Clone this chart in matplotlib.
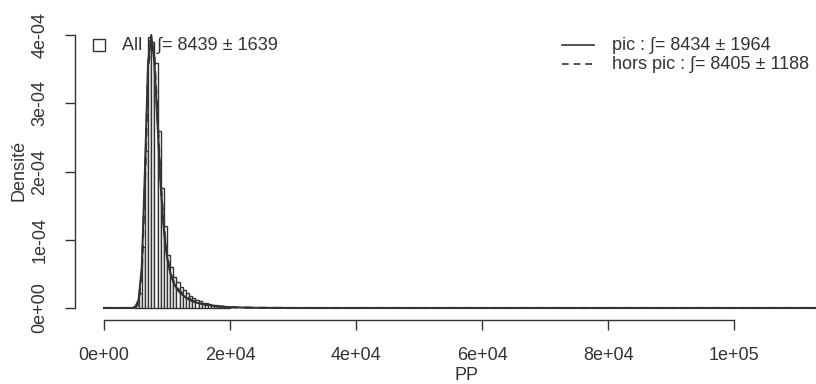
import matplotlib
matplotlib.use("Agg")
import matplotlib.pyplot as plt
from matplotlib.lines import Line2D

plt.rcParams['font.family'] = ['Liberation Sans', 'DejaVu Sans']

# histogram (density), bins of 500
bin_start = 5000
bin_width = 500
hist_density = [5e-6, 2.2e-5, 9e-5, 2.3e-4, 3.97e-4, 3.9e-4, 3.59e-4, 2.6e-4,
                1.76e-4, 1.2e-4, 7.8e-5, 6e-5, 4.5e-5, 3.8e-5, 3.1e-5, 2.6e-5,
                2.2e-5, 1.8e-5, 1.5e-5, 1.2e-5, 1.0e-5, 8e-6, 7e-6, 6e-6,
                5e-6, 4e-6, 3e-6, 2.5e-6, 2e-6, 1.5e-6]

# kernel density curves
pic_x = [0, 4500, 5000, 5500, 6000, 6500, 7000, 7500, 8000, 8500, 9000, 9500,
         10000, 10500, 11000, 11500, 12000, 13000, 14000, 15000, 16000, 18000,
         20000, 22000, 25000, 30000, 115000]
pic_y = [0, 0, 2e-6, 1.2e-5, 6e-5, 2.0e-4, 3.6e-4, 4.0e-4, 3.6e-4, 2.7e-4, 1.8e-4,
         1.15e-4, 7.5e-5, 5.2e-5, 3.8e-5, 2.9e-5, 2.3e-5, 1.5e-5, 1.0e-5, 7e-6,
         5e-6, 2.5e-6, 1.2e-6, 6e-7, 2e-7, 0, 0]

hors_x = [0, 5000, 5500, 6000, 6500, 7000, 7500, 8000, 8500, 9000, 9500,
          10000, 10500, 11000, 11500, 12000, 13000, 14000, 15000, 16000, 18000,
          20000, 22000, 25000, 30000, 115000]
hors_y = [0, 0, 8e-6, 5e-5, 1.8e-4, 3.5e-4, 3.95e-4, 3.7e-4, 2.8e-4, 1.85e-4,
          1.2e-4, 7.8e-5, 5.4e-5, 4.0e-5, 3.1e-5, 2.5e-5, 1.7e-5, 1.1e-5, 7.5e-6,
          5e-6, 2.5e-6, 1.2e-6, 6e-7, 2e-7, 0, 0]

x_ticks = [0, 20000, 40000, 60000, 80000, 100000]
x_labels = ['0e+00', '2e+04', '4e+04', '6e+04', '8e+04', '1e+05']
y_ticks = [0, 1e-4, 2e-4, 3e-4, 4e-4]
y_labels = ['0e+00', '1e-04', '2e-04', '3e-04', '4e-04']

col = '#333333'
fs = 13
W, H = 816, 384
fig = plt.figure(figsize=(W / 100, H / 100), dpi=100)
ax = fig.add_axes([75 / W, 64 / H, (857 - 75) / W, 300 / H])

edges = [bin_start + i * bin_width for i in range(len(hist_density))]
ax.bar(edges, hist_density, width=bin_width, align='edge', facecolor='white',
       edgecolor=col, linewidth=1.0)
ax.plot(pic_x, pic_y, color=col, linewidth=1.5)
ax.plot(hors_x, hors_y, color=col, linewidth=1.5, linestyle=(0, (4, 3)))

ax.set_xlim(-4600, 119500)
ax.set_ylim(-0.176e-4, 4.22e-4)

for s in ['top', 'right']:
    ax.spines[s].set_visible(False)
ax.spines['left'].set_bounds(0, 4e-4)
ax.spines['bottom'].set_bounds(0, 1e5)
for s in ['left', 'bottom']:
    ax.spines[s].set_color(col)
    ax.spines[s].set_linewidth(1.0)

ax.set_xticks(x_ticks)
ax.set_xticklabels(x_labels)
ax.set_yticks(y_ticks)
ax.set_yticklabels(y_labels, rotation=90, va='center')
ax.tick_params(direction='out', length=7, width=1.0, color=col, labelcolor=col,
               labelsize=fs)
ax.tick_params(axis='x', pad=12.5)
ax.tick_params(axis='y', pad=12)
ax.set_xlabel('PP', fontsize=fs, color=col, labelpad=2)
ax.set_ylabel('Densité', fontsize=fs, color=col, labelpad=3)

# legends
fig.add_artist(Line2D([98.5 / W], [1 - 45 / H], marker='s', markersize=9,
                      markerfacecolor='none', markeredgecolor=col,
                      markeredgewidth=1.0, transform=fig.transFigure))
fig.text(122 / W, 1 - 45 / H, 'All : ∫= 8439 ± 1639', fontsize=fs, color=col,
         va='center', ha='left')

fig.add_artist(Line2D([562 / W, 594 / W], [1 - 45 / H] * 2, color=col,
                      linewidth=1.2, transform=fig.transFigure))
fig.add_artist(Line2D([562 / W, 594 / W], [1 - 64 / H] * 2, color=col,
                      linewidth=1.2, linestyle=(0, (4, 3)),
                      transform=fig.transFigure))
fig.text(612 / W, 1 - 45 / H, 'pic : ∫= 8434 ± 1964', fontsize=fs, color=col,
         va='center', ha='left')
fig.text(612 / W, 1 - 64 / H, 'hors pic : ∫= 8405 ± 1188', fontsize=fs,
         color=col, va='center', ha='left')

fig.savefig('out.png', dpi=100)
